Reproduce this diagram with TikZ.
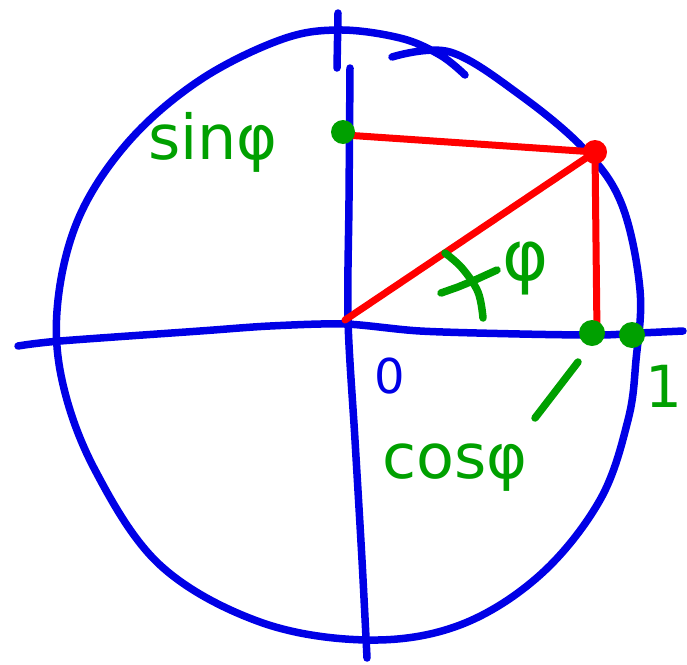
\documentclass[tikz,border=0pt]{standalone}
\usepackage{fontspec}
\setmainfont{DejaVu Sans}
\definecolor{pblue}{RGB}{0,0,230}
\definecolor{pred}{RGB}{255,0,0}
\definecolor{pgreen}{RGB}{0,160,0}
\tikzset{
  bluestroke/.style={draw=pblue,line width=7.5pt,line cap=round,line join=round},
  redstroke/.style={draw=pred,line width=7pt,line cap=round,line join=round},
  greenstroke/.style={draw=pgreen,line width=7.5pt,line cap=round,line join=round},
  gdot/.style={circle,fill=pgreen,inner sep=0pt,minimum size=#1},
  glabel/.style={text=pgreen,font=\fontsize{62}{66}\selectfont,inner sep=0pt},
}
\begin{document}
\begin{tikzpicture}[x=1pt,y=-1pt]
\useasboundingbox (0,0) rectangle (687,664);
% circle
\draw[bluestroke] plot[smooth,tension=0.6] coordinates {
 (392,57) (450,52) (520,95) (585,150) (622,205) (640,290) (636,360) (628,420)
 (600,500) (540,575) (460,625) (368,640) (260,622) (160,565) (95,470)
 (62,380) (58,300) (80,215) (130,140) (200,80) (280,40) (338,30) (400,38) (440,55) (465,75)};
% axes
\draw[bluestroke] plot[smooth,tension=0.5] coordinates {(18,346) (60,341) (200,331) (270,326) (345,324) (420,331) (520,334) (600,335) (640,333) (683,331)};
\draw[bluestroke] (338,13) -- (337,68);
\draw[bluestroke] plot[smooth,tension=0.5] coordinates {(350,68) (349,200) (348,320) (355,440) (362,560) (367,658)};
% red triangle
\coordinate (O) at (345,320);
\coordinate (P) at (595,152);
\coordinate (S) at (345,135);
\coordinate (C) at (597,334);
\draw[redstroke] (O) -- (P);
\draw[redstroke] (S) -- (P);
\draw[redstroke] (P) -- (C);
\node[circle,fill=pred,inner sep=0pt,minimum size=24pt] (pt) at (P) {};
% green dots
\node[gdot=24pt] (sdot) at (343,132) {};
\node[gdot=26pt] (cdot) at (592,333) {};
\node[gdot=26pt] (odot) at (632,335) {};
% angle mark
\draw[greenstroke] plot[smooth,tension=0.6] coordinates {(445,253) (462,268) (478,292) (483,318)};
\draw[greenstroke] (441,293) -- (458,287) -- (475,280) -- (497,270);
% labels
\node[glabel] (sin) at (213,142) {sinφ};
\node[glabel,font=\fontsize{70}{74}\selectfont] (phi) at (526,268) {φ};
\node[glabel] (cos) at (455,468) {cosφ};
\node[text=pblue,font=\fontsize{48}{52}\selectfont,inner sep=0pt] (zero) at (390,376) {0};
\node[glabel,font=\fontsize{58}{62}\selectfont] (one) at (664,386) {1};
\draw[greenstroke] (578,362) -- (535,418);
\end{tikzpicture}
\end{document}
